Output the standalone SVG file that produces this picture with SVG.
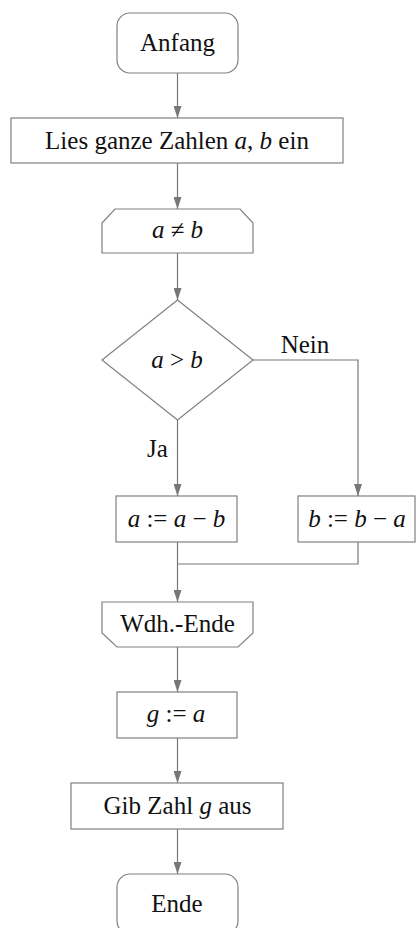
<svg xmlns="http://www.w3.org/2000/svg" width="420" height="928" viewBox="0 0 420 928">
<defs>
<marker id="arr" markerWidth="12" markerHeight="8" refX="12" refY="4" orient="auto" markerUnits="userSpaceOnUse">
<path d="M0,0 L12,4 L0,8 Z" fill="#777"/>
</marker>
<style>
.n{fill:#fff;stroke:#808080;stroke-width:1.2}
.t{font-family:"Liberation Serif","DejaVu Serif",serif;font-size:25px;fill:#111;text-anchor:middle}
.i{font-style:italic}
.c{fill:none;stroke:#777;stroke-width:1.2}
</style>
</defs>
<rect width="420" height="928" fill="#fff"/>
<g id="connectors">
<path class="c" d="M177.5,73 V118" marker-end="url(#arr)"/>
<path class="c" d="M177.5,163 V209" marker-end="url(#arr)"/>
<path class="c" d="M177.5,253 V300" marker-end="url(#arr)"/>
<path class="c" d="M177.5,420 V496" marker-end="url(#arr)"/>
<path class="c" d="M253,360 H358 V496" marker-end="url(#arr)"/>
<path class="c" d="M358,542 V564 H177.5"/>
<path class="c" d="M177.5,542 V602" marker-end="url(#arr)"/>
<path class="c" d="M177.5,647 V692" marker-end="url(#arr)"/>
<path class="c" d="M177.5,738 V783" marker-end="url(#arr)"/>
<path class="c" d="M177.5,829 V874" marker-end="url(#arr)"/>
<text class="t" x="305" y="353">Nein</text>
<text class="t" x="157.5" y="457">Ja</text>
</g>
<g id="start">
<rect class="n" x="117" y="13" width="121" height="60" rx="13"/>
<text class="t" x="177.5" y="51">Anfang</text>
</g>
<g id="input">
<rect class="n" x="11" y="118" width="332" height="45"/>
<text class="t" x="177" y="149">Lies ganze Zahlen <tspan class="i">a</tspan>, <tspan class="i">b</tspan> ein</text>
</g>
<g id="loop">
<path class="n" d="M115,209 H240 L253,223 V253 H102 V223 Z"/>
<text class="t" x="177.5" y="238"><tspan class="i">a</tspan> ≠ <tspan class="i">b</tspan></text>
</g>
<g id="decision">
<path class="n" d="M177.5,300 L253,360 L177.5,420 L102,360 Z"/>
<text class="t" x="177" y="368"><tspan class="i">a</tspan> &gt; <tspan class="i">b</tspan></text>
</g>
<g id="suba">
<rect class="n" x="116" y="496" width="121" height="46"/>
<text class="t" x="176.5" y="527"><tspan class="i">a</tspan> := <tspan class="i">a</tspan> − <tspan class="i">b</tspan></text>
</g>
<g id="subb">
<rect class="n" x="298" y="496" width="117" height="46"/>
<text class="t" x="357" y="527"><tspan class="i">b</tspan> := <tspan class="i">b</tspan> − <tspan class="i">a</tspan></text>
</g>
<g id="loopend">
<path class="n" d="M102,602 H253 V633 L238,647 H117 L102,633 Z"/>
<text class="t" x="177.5" y="632">Wdh.-Ende</text>
</g>
<g id="assign">
<rect class="n" x="117" y="692" width="120" height="46"/>
<text class="t" x="176" y="722"><tspan class="i">g</tspan> := <tspan class="i">a</tspan></text>
</g>
<g id="output">
<rect class="n" x="71" y="783" width="212" height="46"/>
<text class="t" x="177.5" y="814">Gib Zahl <tspan class="i">g</tspan> aus</text>
</g>
<g id="end">
<rect class="n" x="117" y="874" width="121" height="60" rx="13"/>
<text class="t" x="177" y="912">Ende</text>
</g>
</svg>
